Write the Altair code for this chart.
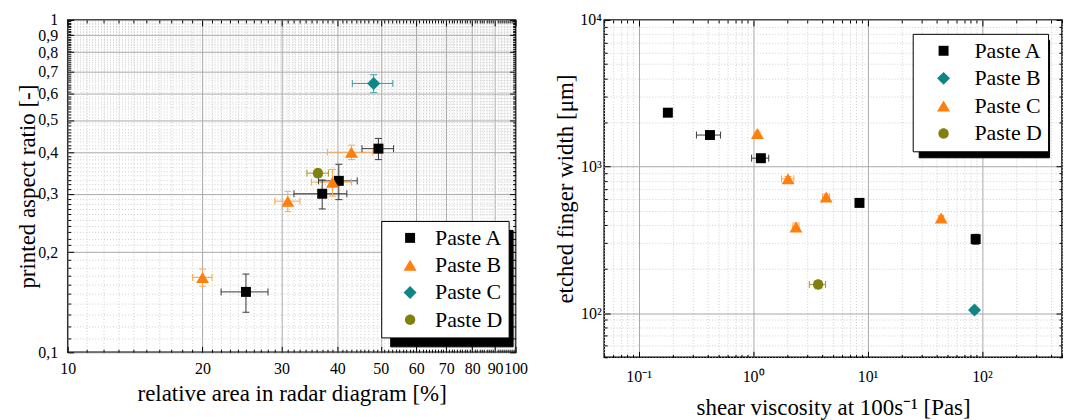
import altair as alt
import pandas as pd

FONT = "Liberation Serif"

# ---------------- left panel data ----------------
L_series = ["Paste A", "Paste A", "Paste A", "Paste A",
            "Paste B", "Paste B", "Paste B", "Paste B",
            "Paste C", "Paste D"]
L_area = [25.0, 37.0, 40.3, 49.4, 20.0, 31.0, 39.0, 43.0, 48.2, 36.2]
L_area_err = [3.0, 5.0, 4.0, 4.0, 1.0, 2.0, 4.0, 5.0, 5.0, 2.0]
L_ratio = [0.152, 0.300, 0.328, 0.410, 0.168, 0.285, 0.325, 0.400, 0.644, 0.346]
L_ratio_err = [0.020, 0.030, 0.040, 0.030, 0.010, 0.020, 0.030, 0.020, 0.040, 0.010]
L_names = ["Paste A", "Paste B", "Paste C", "Paste D"]
L_colors = ["#000000", "#ff7f0e", "#108585", "#808010"]
L_bar_colors = ["#3a3a3a", "#ffa54f", "#3a9c9c", "#9a9a30"]

L_x_major = [10, 20, 30, 40, 50, 60, 70, 80, 90, 100]
L_y_major = [0.1, 0.2, 0.3, 0.4, 0.5, 0.6, 0.7, 0.8, 0.9, 1.0]
L_y_labels = ["0,1", "0,2", "0,3", "0,4", "0,5", "0,6", "0,7", "0,8", "0,9", "1"]
L_x_minor = [v for v in range(11, 100) if v % 10 != 0]
L_y_minor = [round(v / 100, 2) for v in range(11, 100) if v % 10 != 0]

# ---------------- right panel data ----------------
R_series = ["Paste A", "Paste A", "Paste A", "Paste A", "Paste A",
            "Paste B",
            "Paste C", "Paste C", "Paste C", "Paste C", "Paste C",
            "Paste D"]
R_visc = [0.18, 0.42, 1.17, 8.5, 88.0, 86.0, 1.09, 2.02, 2.37, 4.35, 44.0, 3.7]
R_visc_err = [0.01, 0.10, 0.20, 0.4, 4.0, 3.0, 0.03, 0.25, 0.15, 0.3, 2.0, 0.6]
R_width = [2330, 1640, 1140, 565, 320, 105, 1680, 825, 387, 620, 445, 157]
R_width_err = [60, 40, 60, 30, 25, 5, 30, 30, 25, 30, 15, 10]
R_names = ["Paste A", "Paste B", "Paste C", "Paste D"]
R_colors = ["#000000", "#108585", "#ff7f0e", "#808010"]
R_bar_colors = ["#3a3a3a", "#3a9c9c", "#ffa54f", "#9a9a30"]

R_x_major = [0.1, 1, 10, 100]
R_x_labels = ["10\u207b\u00b9", "10\u2070", "10\u00b9", "10\u00b2"]
R_y_major = [100, 1000, 10000]
R_y_labels = ["10\u00b2", "10\u00b3", "10\u2074"]
R_x_minor = [m * 10.0 ** e for e in range(-2, 3) for m in range(2, 10)
             if 0.05 <= m * 10.0 ** e <= 500]
R_x_minor = [round(v, 4) for v in R_x_minor]
R_y_minor = [m * 10 ** e for e in range(1, 4) for m in range(2, 10)
             if 50 <= m * 10 ** e <= 10000 and m * 10 ** e not in (100, 1000, 10000)]

# marker shapes (unit-box svg paths)
SQ = "M-0.77,-0.77L0.77,-0.77L0.77,0.77L-0.77,0.77Z"
TRI = "M0,-0.85L1,0.85L-1,0.85Z"
DIA = "M0,-1L1,0L0,1L-1,0Z"
CIR = "M-0.8,0A0.8,0.8,0,1,1,0.8,0A0.8,0.8,0,1,1,-0.8,0Z"
L_shapes = [SQ, TRI, DIA, CIR]
R_shapes = [SQ, DIA, TRI, CIR]

LEG_FS = 22
LABEL_W = 67.8   # width of "Paste D" at LEG_FS in Liberation Serif
SPACE_W = 5.5    # width of a space at LEG_FS


def make_df(series, x, xerr, y, yerr):
    return pd.DataFrame({
        "series": series,
        "x": x,
        "xlo": [a - b for a, b in zip(x, xerr)],
        "xhi": [a + b for a, b in zip(x, xerr)],
        "y": y,
        "ylo": [a - b for a, b in zip(y, yerr)],
        "yhi": [a + b for a, b in zip(y, yerr)],
    })


def panel(df, xscale, yscale, xmaj, xmin, ymaj, ymin, xexpr, yexpr,
          xtitle, ytitle, names, colors, bar_colors, shapes,
          w, h, lx, ly, sh, lab):
    base = alt.Chart(df).mark_point(opacity=0)

    def enc(xa, ya):
        return base.encode(
            x=alt.X("x:Q", scale=xscale, axis=xa),
            y=alt.Y("y:Q", scale=yscale, axis=ya),
        )

    common = dict(labels=False, grid=False, domain=False, title=None,
                  tickColor="black", tickWidth=1)
    layers = [
        enc(alt.Axis(orient="bottom", values=xmaj, labelExpr=xexpr,
                     labelOverlap=False, labelFlush=False, grid=True,
                     gridColor="#a8a8a8", gridWidth=1, ticks=False,
                     domain=False, labelPadding=lab["xpad"], title=xtitle,
                     titlePadding=lab["xtp"]),
            alt.Axis(orient="left", values=ymaj, labelExpr=yexpr,
                     labelOverlap=False, labelFlush=False, grid=True,
                     gridColor="#a8a8a8", gridWidth=1, ticks=False,
                     domain=False, labelPadding=lab["ypad"], title=ytitle,
                     titlePadding=lab["ytp"])),
        enc(alt.Axis(orient="bottom", values=xmin, labels=False, ticks=False,
                     domain=False, grid=True, gridColor="#cfcfcf",
                     gridDash=[1, 2], gridWidth=1, title=None),
            alt.Axis(orient="left", values=ymin, labels=False, ticks=False,
                     domain=False, grid=True, gridColor="#cfcfcf",
                     gridDash=[1, 2], gridWidth=1, title=None)),
        enc(alt.Axis(orient="bottom", values=xmaj, offset=-6, tickSize=6, **common),
            alt.Axis(orient="left", values=ymaj, offset=-6, tickSize=6, **common)),
        enc(alt.Axis(orient="bottom", values=xmin, offset=-3, tickSize=3, **common),
            alt.Axis(orient="left", values=ymin, offset=-3, tickSize=3, **common)),
        enc(alt.Axis(orient="top", values=xmaj, offset=-6, tickSize=6, **common),
            alt.Axis(orient="right", values=ymaj, offset=-6, tickSize=6, **common)),
        enc(alt.Axis(orient="top", values=xmin, offset=-3, tickSize=3, **common),
            alt.Axis(orient="right", values=ymin, offset=-3, tickSize=3, **common)),
    ]

    bar_stroke = alt.Stroke("series:N",
                            scale=alt.Scale(domain=names, range=bar_colors),
                            legend=None)
    xbar = alt.Chart(df).mark_rule(strokeWidth=1).encode(
        x=alt.X("xlo:Q", scale=xscale, axis=None), x2="xhi:Q",
        y=alt.Y("y:Q", scale=yscale, axis=None), stroke=bar_stroke)
    ybar = alt.Chart(df).mark_rule(strokeWidth=1).encode(
        y=alt.Y("ylo:Q", scale=yscale, axis=None), y2="yhi:Q",
        x=alt.X("x:Q", scale=xscale, axis=None), stroke=bar_stroke)
    xcap = alt.Chart(df).transform_fold(["xlo", "xhi"], as_=["k", "xc"]).mark_rule(
        strokeWidth=1, yOffset=-3.5, y2Offset=3.5).encode(
        x=alt.X("xc:Q", scale=xscale, axis=None),
        y=alt.Y("y:Q", scale=yscale, axis=None), y2="y:Q", stroke=bar_stroke)
    ycap = alt.Chart(df).transform_fold(["ylo", "yhi"], as_=["k", "yc"]).mark_rule(
        strokeWidth=1, xOffset=-3.5, x2Offset=3.5).encode(
        y=alt.Y("yc:Q", scale=yscale, axis=None),
        x=alt.X("x:Q", scale=xscale, axis=None), x2="x:Q", stroke=bar_stroke)

    leg_common = dict(title=None, orient="none", padding=6, labelFont=FONT,
                      labelFontSize=LEG_FS, symbolSize=169, labelLimit=400,
                      symbolOffset=lab["soff"], rowPadding=lab["rowpad"],
                      cornerRadius=0)
    leg_white = alt.Legend(legendX=lx, legendY=ly, fillColor="white",
                           strokeColor="black", labelColor="black",
                           labelOffset=lab["loff"],
                           zindex=3, symbolStrokeWidth=0, **leg_common)
    # drop shadow: same box, blank labels, shifted down-right
    leg_shadow = alt.Legend(legendX=lx + sh, legendY=ly + sh, fillColor="black",
                            strokeColor="black", labelColor="black",
                            labelExpr="' '",
                            labelOffset=lab["loff"] + LABEL_W - SPACE_W,
                            symbolOpacity=0, zindex=2, **leg_common)

    color_scale = alt.Scale(domain=names, range=colors)
    shadow = alt.Chart(df).mark_point(opacity=0).encode(
        x=alt.X("x:Q", scale=xscale, axis=None),
        y=alt.Y("y:Q", scale=yscale, axis=None),
        color=alt.Color("series:N", scale=color_scale, legend=leg_shadow),
    )
    pts = alt.Chart(df).mark_point(filled=True, size=169, strokeWidth=0,
                                   opacity=1).encode(
        x=alt.X("x:Q", scale=xscale, axis=None),
        y=alt.Y("y:Q", scale=yscale, axis=None),
        color=alt.Color("series:N", scale=color_scale, legend=leg_white),
        shape=alt.Shape("series:N", scale=alt.Scale(domain=names, range=shapes),
                        legend=leg_white),
    )

    return alt.layer(*layers, xbar, ybar, xcap, ycap, shadow, pts).resolve_axis(
        x="independent", y="independent").resolve_legend(
        color="independent", shape="independent").properties(width=w, height=h)


left_df = make_df(L_series, L_area, L_area_err, L_ratio, L_ratio_err)
right_df = make_df(R_series, R_visc, R_visc_err, R_width, R_width_err)

L_xexpr = "format(datum.value, '.0f')"
L_yexpr = "[" + ",".join("'%s'" % s for s in L_y_labels) + "][round(datum.value*10)-1]"
R_xexpr = "[" + ",".join("'%s'" % s for s in R_x_labels) + "][round(log(datum.value)/LN10)+1]"
R_yexpr = "[" + ",".join("'%s'" % s for s in R_y_labels) + "][round(log(datum.value)/LN10)-2]"

left = panel(left_df,
             alt.Scale(type="log", domain=[10, 100], nice=False),
             alt.Scale(type="log", domain=[0.1, 1], nice=False),
             L_x_major, L_x_minor, L_y_major, L_y_minor, L_xexpr, L_yexpr,
             "relative area in radar diagram [%]", "printed aspect ratio [-]",
             L_names, L_colors, L_bar_colors, L_shapes,
             450, 334, 315, 202, 9,
             dict(xpad=8, xtp=6, ypad=10, ytp=-2, soff=12, loff=14, rowpad=5.4))

right = panel(right_df,
              alt.Scale(type="log", domain=[0.05, 500], nice=False),
              alt.Scale(type="log", domain=[50, 10000], nice=False),
              R_x_major, R_x_minor, R_y_major, R_y_minor, R_xexpr, R_yexpr,
              "shear viscosity at 100s\u207b\u00b9 [Pas]", "etched finger width [\u03bcm]",
              R_names, R_colors, R_bar_colors, R_shapes,
              460, 339, 310, 14, 6,
              dict(xpad=11, xtp=12, ypad=3, ytp=2, soff=14, loff=20, rowpad=5.7))

chart = alt.hconcat(left, right, spacing=89, bounds="flush").resolve_scale(
    color="independent", shape="independent", stroke="independent").properties(
    padding={"left": 8, "top": 2, "right": 0, "bottom": 0}
).configure_view(stroke="black", strokeWidth=1.5).configure_axis(
    labelFont=FONT, titleFont=FONT, labelFontSize=16, titleFontSize=23,
    titleFontWeight="normal", labelColor="black", titleColor="black"
).configure_legend(labelFont=FONT, labelFontSize=LEG_FS, labelColor="black")

chart.save("out.html", embed_options={"renderer": "svg", "actions": False})
